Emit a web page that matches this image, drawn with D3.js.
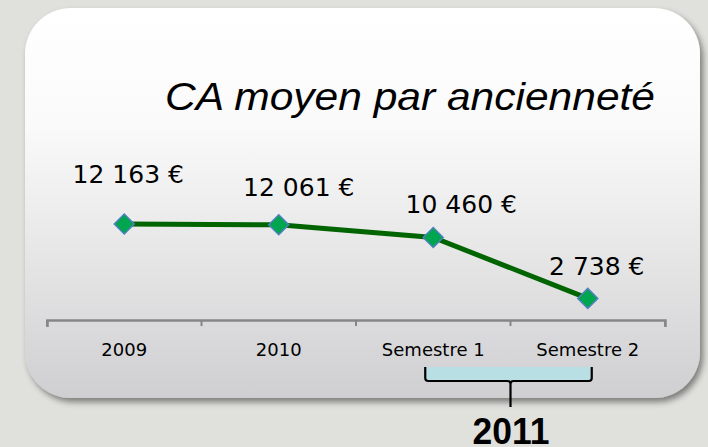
<!DOCTYPE html>
<html>
<head>
<meta charset="utf-8">
<title>CA moyen par ancienneté</title>
<style>
  body { margin: 0; background: #e0e0dc; }
  svg { display: block; }
  .tick text { font-family: "DejaVu Sans", Verdana, sans-serif; }
</style>
</head>
<body>
<div id="chart"></div>
<script src="https://cdnjs.cloudflare.com/ajax/libs/d3/7.8.5/d3.min.js"></script>
<script>
// data
var categories = ['2009', '2010', 'Semestre 1', 'Semestre 2'];
var values = [12163, 12061, 10460, 2738];
var groupLabel = '2011';
var groupedCats = ['Semestre 1', 'Semestre 2'];

// label nudges (layout only)
var labelDx = [4, 20, 28, 9];
var labelDy = [-41, -29, -24, -23];

var W = 708, H = 447;
var svg = d3.select('#chart').append('svg').attr('width', W).attr('height', H);
var defs = svg.append('defs');

var grad = defs.append('linearGradient').attr('id', 'card').attr('x1', 0).attr('y1', 0).attr('x2', 0).attr('y2', 1);
grad.append('stop').attr('offset', '0%').attr('stop-color', '#ffffff');
grad.append('stop').attr('offset', '30%').attr('stop-color', '#fafafa');
grad.append('stop').attr('offset', '70%').attr('stop-color', '#e2e2e3');
grad.append('stop').attr('offset', '100%').attr('stop-color', '#cfcfd2');

var shadow = defs.append('filter').attr('id', 'shadow').attr('x', '-10%').attr('y', '-10%').attr('width', '125%').attr('height', '125%');
shadow.append('feDropShadow').attr('dx', 3).attr('dy', 4).attr('stdDeviation', 3)
  .attr('flood-color', '#000').attr('flood-opacity', 0.45);

svg.append('rect')
  .attr('x', 25).attr('y', 8).attr('width', 675).attr('height', 390)
  .attr('rx', 46).attr('ry', 46)
  .attr('fill', 'url(#card)')
  .attr('filter', 'url(#shadow)');

svg.append('text')
  .attr('x', 165).attr('y', 110)
  .attr('textLength', 490).attr('lengthAdjust', 'spacingAndGlyphs')
  .style('font-family', 'Liberation Sans, Arial, sans-serif')
  .style('font-style', 'italic')
  .style('font-size', '38px')
  .attr('fill', '#000')
  .text('CA moyen par ancienneté');

var x = d3.scaleBand().domain(categories).range([47, 665]);
var y = d3.scaleLinear().domain([0, 12163]).range([320, 224]);

var xAxis = svg.append('g').attr('transform', 'translate(0,320)')
  .call(d3.axisBottom(x).tickSize(7).tickSizeOuter(7).tickPadding(16));
xAxis.select('.domain').attr('stroke', '#868686').attr('stroke-width', 2.5);
xAxis.selectAll('.tick line').remove();
xAxis.selectAll('.tick text').style('font-size', '18px').attr('fill', '#000');

// ticks at band boundaries
var bounds = categories.map(function(c) { return x(c); }).concat([x.range()[1]]);
svg.append('g').selectAll('line').data(bounds).join('line')
  .attr('x1', function(d) { return d; }).attr('x2', function(d) { return d; })
  .attr('y1', 320).attr('y2', 326)
  .attr('stroke', '#868686').attr('stroke-width', 2);

var pts = categories.map(function(c, i) { return { cat: c, v: values[i], i: i }; });
var line = d3.line()
  .x(function(d) { return x(d.cat) + x.bandwidth() / 2; })
  .y(function(d) { return y(d.v); });

svg.append('path').datum(pts)
  .attr('d', line)
  .attr('fill', 'none')
  .attr('stroke', '#006400')
  .attr('stroke-width', 5);

svg.append('g').selectAll('path').data(pts).join('path')
  .attr('d', d3.symbol(d3.symbolSquare, 200))
  .attr('transform', function(d) {
    return 'translate(' + (x(d.cat) + x.bandwidth() / 2) + ',' + y(d.v) + ') rotate(45)';
  })
  .attr('fill', '#00a550')
  .attr('stroke', '#4f81bd')
  .attr('stroke-width', 1.5);

var fmt = function(v) { return d3.format(',')(v).replace(/,/g, ' ') + ' €'; };
svg.append('g').selectAll('text').data(pts).join('text')
  .attr('x', function(d) { return x(d.cat) + x.bandwidth() / 2 + labelDx[d.i]; })
  .attr('y', function(d) { return y(d.v) + labelDy[d.i]; })
  .attr('text-anchor', 'middle')
  .style('font-family', 'DejaVu Sans, Verdana, sans-serif')
  .style('font-size', '25px')
  .attr('fill', '#000')
  .text(function(d) { return fmt(d.v); });

// brace for 2011
var bx0 = x(groupedCats[0]) + x.bandwidth() / 2 - 8;
var bx1 = x(groupedCats[1]) + x.bandwidth() / 2 + 4;
var bmid = x(groupedCats[1]);
var by0 = 367, by1 = 381;
svg.append('rect').attr('x', bx0).attr('y', by0).attr('width', bx1 - bx0).attr('height', by1 - by0)
  .attr('fill', '#b8e0e4');
svg.append('path')
  .attr('d', 'M' + bx0 + ',' + by0 + ' L' + bx0 + ',' + (by1 - 3) + ' Q' + bx0 + ',' + by1 + ' ' + (bx0 + 3) + ',' + by1 +
    ' L' + (bmid - 3) + ',' + by1 + ' Q' + bmid + ',' + by1 + ' ' + bmid + ',' + (by1 + 3) + ' L' + bmid + ',' + 407 +
    ' M' + bmid + ',' + (by1 + 3) + ' Q' + bmid + ',' + by1 + ' ' + (bmid + 3) + ',' + by1 +
    ' L' + (bx1 - 3) + ',' + by1 + ' Q' + bx1 + ',' + by1 + ' ' + bx1 + ',' + (by1 - 3) + ' L' + bx1 + ',' + by0)
  .attr('fill', 'none')
  .attr('stroke', '#000')
  .attr('stroke-width', 2.2);

svg.append('text')
  .attr('x', bmid - 38).attr('y', 444)
  .attr('textLength', 77).attr('lengthAdjust', 'spacingAndGlyphs')
  .style('font-family', 'Liberation Sans, Arial, sans-serif')
  .style('font-weight', 'bold')
  .style('font-size', '36px')
  .attr('fill', '#000')
  .text(groupLabel);
</script>
</body>
</html>
